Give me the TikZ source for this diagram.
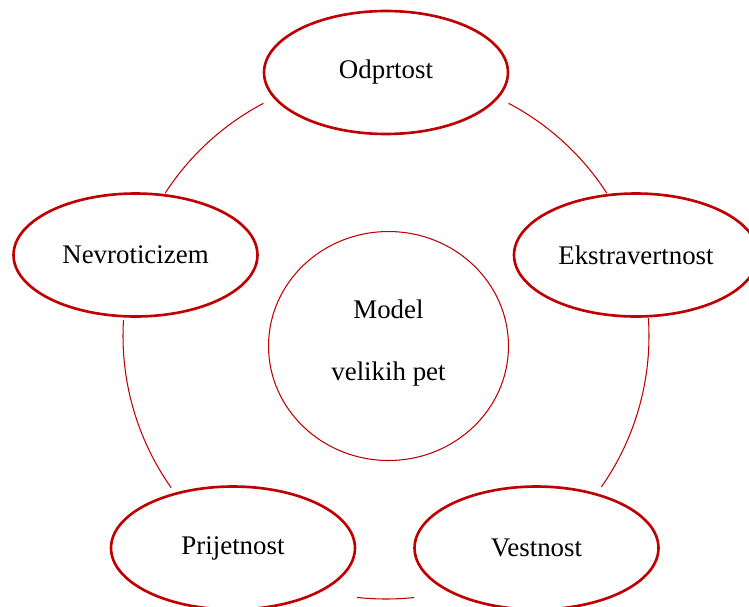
\documentclass[tikz,border=0pt]{standalone}
\usepackage{fontspec}
\setmainfont{Liberation Serif}
\usepackage{tikz}
\usetikzlibrary{shapes.geometric}
\definecolor{darkred}{HTML}{C00000}
\tikzset{trait/.style={draw=darkred,line width=1.5pt,ellipse,fill=white,inner sep=0pt,minimum width=4.88cm,minimum height=2.46cm}}
\tikzset{core/.style={draw=darkred,line width=0.6pt,ellipse,inner sep=0pt,minimum width=4.8cm,minimum height=4.58cm,align=center}}
\tikzset{ring/.style={draw=darkred,line width=0.6pt}}

\begin{document}
\begin{tikzpicture}[x=0.02cm,y=0.02cm,font=\fontsize{15.3}{35.5}\selectfont]
	\useasboundingbox (-386,-270) rectangle (363,336);
	\coordinate (hub) at (0,0);
	\node[core] (model) at (2.5,-10) {Model\\velikih pet\\[-28.7pt]};
	% five traits round the ring
	\node[trait] (odprtost) at (0,263.5) {Odprtost};
	\node[trait] (ekstravertnost) at (250,81) {Ekstravertnost};
	\node[trait] (vestnost) at (150.5,-212) {Vestnost};
	\node[trait] (prijetnost) at (-153,-212) {Prijetnost};
	\node[trait] (nevroticizem) at (-250.5,81) {Nevroticizem};
	\draw[ring] (hub) ++(32.9:263) arc[start angle=32.9,end angle=62.2,radius=263];
	\draw[ring] (hub) ++(117.8:263) arc[start angle=117.8,end angle=147.1,radius=263];
	\draw[ring] (hub) ++(176.5:263) arc[start angle=176.5,end angle=215.2,radius=263];
	\draw[ring] (hub) ++(263.7:263) arc[start angle=263.7,end angle=276.1,radius=263];
	\draw[ring] (hub) ++(-35:263) arc[start angle=-35,end angle=3.9,radius=263];
\end{tikzpicture}
\end{document}
